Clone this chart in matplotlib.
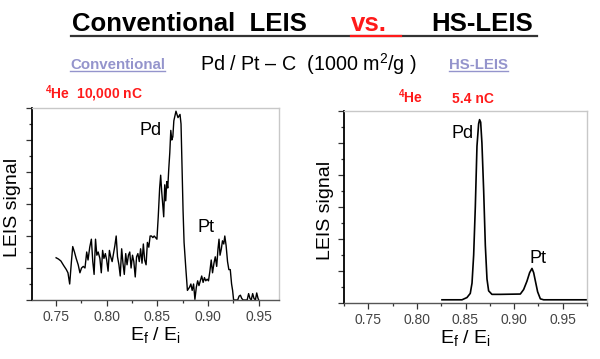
import numpy as np
import matplotlib
matplotlib.use('Agg')
import matplotlib.pyplot as plt
from matplotlib.lines import Line2D
from matplotlib.ticker import MultipleLocator, FormatStrFormatter, NullFormatter

plt.rcParams['font.family'] = ['Liberation Sans', 'DejaVu Sans']
plt.rcParams['mathtext.fontset'] = 'custom'
plt.rcParams['mathtext.rm'] = 'Liberation Sans'
plt.rcParams['mathtext.it'] = 'Liberation Sans:italic'
plt.rcParams['mathtext.bf'] = 'Liberation Sans:bold'

# ---------------- data ----------------
conv_x = [0.7500, 0.7523, 0.7547, 0.7574, 0.7601, 0.7617, 0.7634, 0.7651, 0.7664, 0.7681,
          0.7698, 0.7718, 0.7735, 0.7751, 0.7768, 0.7785, 0.7802, 0.7815, 0.7832, 0.7848,
          0.7862, 0.7875, 0.7889, 0.7902, 0.7915, 0.7932, 0.7946, 0.7959, 0.7972, 0.7986,
          0.7999, 0.8013, 0.8026, 0.8039, 0.8053, 0.8066, 0.8080, 0.8093, 0.8106, 0.8120,
          0.8133, 0.8147, 0.8160, 0.8173, 0.8187, 0.8200, 0.8214, 0.8227, 0.8240, 0.8254,
          0.8267, 0.8281, 0.8294, 0.8307, 0.8321, 0.8334, 0.8348, 0.8361, 0.8374, 0.8388,
          0.8401, 0.8415, 0.8428, 0.8441, 0.8455, 0.8468, 0.8482, 0.8495,
          0.8508, 0.8522, 0.8532, 0.8542, 0.8552, 0.8562, 0.8572, 0.8582, 0.8592, 0.8602,
          0.8612, 0.8622, 0.8632, 0.8642, 0.8652, 0.8662, 0.8673, 0.8683, 0.8693, 0.8703,
          0.8713, 0.8723, 0.8733, 0.8743, 0.8753, 0.8763, 0.8780, 0.8796, 0.8817, 0.8830,
          0.8843, 0.8857, 0.8870, 0.8884, 0.8897, 0.8910, 0.8924, 0.8937, 0.8951, 0.8964,
          0.8977, 0.8991, 0.9004, 0.9018, 0.9031, 0.9044, 0.9058, 0.9071, 0.9085, 0.9098,
          0.9108, 0.9118, 0.9131, 0.9142, 0.9155, 0.9165, 0.9178, 0.9192, 0.9205, 0.9219,
          0.9232, 0.9242, 0.9252, 0.9265, 0.9292, 0.9306, 0.9319, 0.9332, 0.9346, 0.9386,
          0.9400, 0.9413, 0.9426, 0.9440, 0.9453, 0.9467, 0.9480, 0.9493, 0.9500]
conv_y = [1.32, 1.28, 1.22, 1.08, 0.95, 0.85, 0.50, 1.20, 1.67, 1.50,
          1.30, 1.10, 0.85, 1.00, 1.05, 1.00, 1.50, 1.25, 1.65, 1.90,
          1.20, 0.80, 1.90, 1.40, 1.50, 1.30, 0.85, 1.55, 1.30, 1.45,
          1.25, 0.90, 1.55, 1.35, 1.20, 1.45, 1.70, 2.00, 1.35, 1.10,
          0.75, 1.60, 1.15, 0.80, 1.45, 1.10, 1.40, 1.50, 1.00, 1.40,
          1.20, 0.72, 1.35, 1.45, 1.20, 1.60, 1.15, 1.75, 1.25, 1.10,
          1.80, 1.65, 2.00, 2.00, 1.95, 2.00, 1.95, 1.90,
          2.60, 3.50, 3.90, 3.40, 3.00, 2.60, 3.60, 3.10, 3.70, 3.50,
          4.10, 4.60, 5.30, 5.00, 5.10, 5.60, 5.75, 5.90, 5.80, 5.70,
          5.75, 5.80, 5.50, 4.20, 2.80, 1.80, 1.00, 0.30, 0.40, 0.50,
          0.30, 0.50, 0.02, 0.40, 0.60, 0.45, 0.60, 0.75, 0.55, 0.70,
          0.60, 0.65, 0.60, 0.90, 1.25, 0.85, 1.15, 1.35, 1.05, 1.60,
          1.90, 1.40, 1.60, 1.85, 1.75, 2.00, 1.70, 1.20, 0.95, 0.95,
          0.50, 0.30, 0.00, 0.00, 0.00, 0.12, 0.15, 0.05, 0.00, 0.00,
          0.20, 0.05, 0.00, 0.20, 0.05, 0.00, 0.22, 0.05, 0.00]

hs_x = [0.8258, 0.8464, 0.8515, 0.8549, 0.8567, 0.8584, 0.8601, 0.8618, 0.8635, 0.8645,
        0.8656, 0.8669, 0.8687, 0.8704, 0.8721, 0.8738, 0.8772, 0.8858, 0.9064, 0.9098,
        0.9132, 0.9160, 0.9184, 0.9201, 0.9218, 0.9242, 0.9270, 0.9304, 0.9750]
hs_y = [0.10, 0.10, 0.17, 0.30, 0.62, 1.50, 3.00, 4.90, 5.60, 5.73,
        5.65, 5.00, 3.50, 1.80, 0.75, 0.38, 0.27, 0.27, 0.28, 0.42,
        0.68, 0.95, 1.08, 0.95, 0.70, 0.35, 0.13, 0.10, 0.10]

x_ticks = [0.75, 0.80, 0.85, 0.90, 0.95]

# ---------------- figure ----------------
W, H = 600, 359
fig = plt.figure(figsize=(6, 3.59), dpi=100)


def fx(px):
    return px / W


def fy(py):
    return 1 - py / H


axL = fig.add_axes([fx(32), fy(300), 247 / W, 192 / H])
axR = fig.add_axes([fx(344), fy(303), 243 / W, 192 / H])
axL.set_xlim(0.7262, 0.9700)
axR.set_xlim(0.725, 0.975)

for ax, lx in ((axL, -0.0445), (axR, -0.041)):
    ax.set_ylim(0, 6)
    for s in ('top', 'right'):
        ax.spines[s].set_color('#c8c8c8')
        ax.spines[s].set_linewidth(1.0)
    ax.spines['left'].set_color('black')
    ax.spines['left'].set_linewidth(1.3)
    ax.spines['bottom'].set_color('#555555')
    ax.spines['bottom'].set_linewidth(1.0)
    ax.set_xticks(x_ticks)
    ax.xaxis.set_major_formatter(FormatStrFormatter('%.2f'))
    ax.xaxis.set_minor_locator(MultipleLocator(0.025))
    ax.yaxis.set_major_locator(MultipleLocator(1))
    ax.yaxis.set_minor_locator(MultipleLocator(0.5))
    ax.yaxis.set_major_formatter(NullFormatter())
    ax.tick_params(which='both', direction='out', top=False, right=False,
                   color='#333333', width=0.9)
    ax.tick_params(which='major', length=4, labelsize=10, labelcolor='#444444', pad=3)
    ax.tick_params(which='minor', length=2.5)
    ax.set_ylabel('LEIS signal', fontsize=14)
    ax.yaxis.set_label_coords(lx, 0.48)
    ax.set_xlabel(r'E$_\mathregular{f}$ / E$_\mathregular{i}$', fontsize=14, labelpad=1)

axL.plot(conv_x, conv_y, color='black', lw=1.0)
axR.plot(hs_x, hs_y, color='black', lw=1.2)

axL.text(0.8437, 5.31, 'Pd', fontsize=13, ha='center', va='center')
axL.text(0.898, 2.28, 'Pt', fontsize=13, ha='center', va='center')
axR.text(0.8474, 5.31, 'Pd', fontsize=13, ha='center', va='center')
axR.text(0.925, 1.40, 'Pt', fontsize=13, ha='center', va='center')

# ---------------- header texts ----------------
tsz = 18.5
red = '#ff1a1a'
fig.text(fx(72), fy(31), 'Conventional  LEIS', fontsize=tsz, fontweight='bold',
         ha='left', va='baseline', color='black')
fig.text(fx(351), fy(31), 'vs.', fontsize=tsz, fontweight='bold',
         ha='left', va='baseline', color=red)
fig.text(fx(431), fy(31), 'HS-LEIS', fontsize=tsz, fontweight='bold',
         ha='left', va='baseline', color='black')
fig.add_artist(Line2D([fx(71), fx(537)], [fy(36), fy(36)], color='#333333', lw=1.6))
fig.add_artist(Line2D([fx(351), fx(401)], [fy(36), fy(36)], color=red, lw=1.6))

sub_col = '#9494cc'
t1 = fig.text(fx(70), fy(69), 'Conventional', fontsize=10.8, fontweight='bold',
              ha='left', va='baseline', color=sub_col)
fig.text(fx(200), fy(71), r'Pd / Pt – C  (1000 m$^\mathregular{2}$/g )', fontsize=14.2,
         ha='left', va='baseline', color='black')
t2 = fig.text(fx(449), fy(69), 'HS-LEIS', fontsize=10.8, fontweight='bold',
              ha='left', va='baseline', color=sub_col)

fig.canvas.draw()
r = fig.canvas.get_renderer()
for t in (t1, t2):
    bb = t.get_window_extent(r)
    fig.add_artist(Line2D([bb.x0 / W, bb.x1 / W], [fy(71), fy(71)], color=sub_col, lw=1.0))

fig.text(fx(45), fy(98), r'$^\mathregular{4}$He  10,000 nC', fontsize=10, fontweight='bold',
         ha='left', va='baseline', color=red)
fig.text(fx(398), fy(103), r'$^\mathregular{4}$He', fontsize=10, fontweight='bold',
         ha='left', va='baseline', color=red)
fig.text(fx(452), fy(103), '5.4 nC', fontsize=10, fontweight='bold',
         ha='left', va='baseline', color=red)

fig.savefig('out.png', dpi=100)
